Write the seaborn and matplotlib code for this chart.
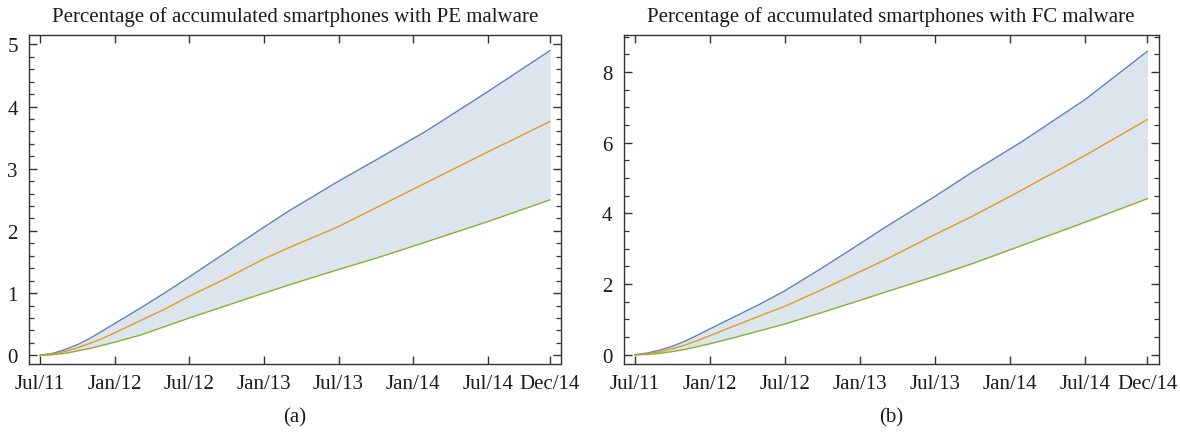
import numpy as np
import pandas as pd
import matplotlib
matplotlib.use("Agg")
import matplotlib.pyplot as plt
import seaborn as sns
from matplotlib.ticker import MultipleLocator, FixedLocator

# months since Jul/2011
months = [0, 1, 2, 3, 4, 5, 6, 8, 10, 12, 15, 18, 20, 24, 27, 31, 36, 41]
tick_months = [0, 6, 12, 18, 24, 30, 36, 41]
tick_labels = ["Jul/11", "Jan/12", "Jul/12", "Jan/13", "Jul/13", "Jan/14", "Jul/14", "Dec/14"]

pe_upper = [0, 0.03, 0.09, 0.17, 0.27, 0.39, 0.51, 0.75, 1.00, 1.26, 1.66, 2.06, 2.32, 2.80, 3.14, 3.60, 4.24, 4.90]
pe_mid   = [0, 0.02, 0.06, 0.12, 0.19, 0.27, 0.36, 0.55, 0.74, 0.95, 1.24, 1.55, 1.73, 2.07, 2.37, 2.77, 3.27, 3.76]
pe_lower = [0, 0.01, 0.03, 0.07, 0.11, 0.16, 0.21, 0.32, 0.46, 0.60, 0.80, 1.00, 1.13, 1.38, 1.56, 1.82, 2.15, 2.50]

fc_upper = [0, 0.05, 0.13, 0.24, 0.38, 0.55, 0.73, 1.08, 1.43, 1.81, 2.46, 3.14, 3.60, 4.48, 5.17, 6.04, 7.22, 8.59]
fc_mid   = [0, 0.03, 0.08, 0.17, 0.27, 0.40, 0.54, 0.82, 1.10, 1.37, 1.85, 2.35, 2.68, 3.40, 3.92, 4.67, 5.64, 6.66]
fc_lower = [0, 0.01, 0.04, 0.09, 0.15, 0.23, 0.31, 0.49, 0.68, 0.87, 1.20, 1.54, 1.77, 2.22, 2.58, 3.10, 3.75, 4.42]

titles = ["Percentage of accumulated smartphones with PE malware",
          "Percentage of accumulated smartphones with FC malware"]
captions = ["(a)", "(b)"]

sns.set_theme(style="ticks")
plt.rcParams['font.family'] = ['Liberation Serif', 'DejaVu Serif']
plt.rcParams['axes.linewidth'] = 1.0

BLUE = "#5E81B5"
ORANGE = "#E19C24"
GREEN = "#8FB032"
FILL = "#DCE4EE"
INK = "#1a1a1a"

fig = plt.figure(figsize=(11.8, 4.35), dpi=100)
ax1 = fig.add_axes([29/1180, 70/435, 532/1180, 329/435])
ax2 = fig.add_axes([623.5/1180, 70/435, 535/1180, 329/435])

panels = [
    (ax1, pe_upper, pe_mid, pe_lower, (-0.14, 5.15), 1, 0.2),
    (ax2, fc_upper, fc_mid, fc_lower, (-0.26, 9.05), 2, 0.5),
]

for i, (ax, up, mid, lo, ylim, major, minor) in enumerate(panels):
    df = pd.DataFrame({"month": months, "upper": up, "mid": mid, "lower": lo})
    ax.fill_between(df["month"], df["lower"], df["upper"], color=FILL, lw=0, zorder=1)
    sns.lineplot(data=df, x="month", y="upper", color=BLUE, lw=1.0, ax=ax, zorder=3)
    sns.lineplot(data=df, x="month", y="mid", color=ORANGE, lw=1.0, ax=ax, zorder=3)
    sns.lineplot(data=df, x="month", y="lower", color=GREEN, lw=1.0, ax=ax, zorder=3)
    ax.set_xlim(-0.88, 41.88)
    ax.set_ylim(*ylim)
    ax.set_xlabel("")
    ax.set_ylabel("")
    ax.xaxis.set_major_locator(FixedLocator(tick_months))
    ax.set_xticklabels(tick_labels)
    ax.yaxis.set_major_locator(MultipleLocator(major))
    ax.yaxis.set_minor_locator(MultipleLocator(minor))
    ax.tick_params(axis="both", which="major", direction="in", length=6, width=1.0,
                   top=True, right=True, labelsize=15, colors="#333333", labelcolor=INK)
    ax.tick_params(axis="y", which="minor", direction="in", length=3.5, width=0.9,
                   left=True, right=True, colors="#333333")
    ax.tick_params(axis="x", which="minor", bottom=False, top=False)
    ax.tick_params(axis="x", pad=7)
    ax.tick_params(axis="y", pad=8)
    for sp in ax.spines.values():
        sp.set_visible(True)
        sp.set_color("#333333")
    ax.set_title(titles[i], fontsize=15, pad=10, color=INK)
    ax.text(0.5, -0.161, captions[i], transform=ax.transAxes, ha="center", va="center",
            fontsize=15, color=INK)

fig.savefig("out.png", dpi=100)
